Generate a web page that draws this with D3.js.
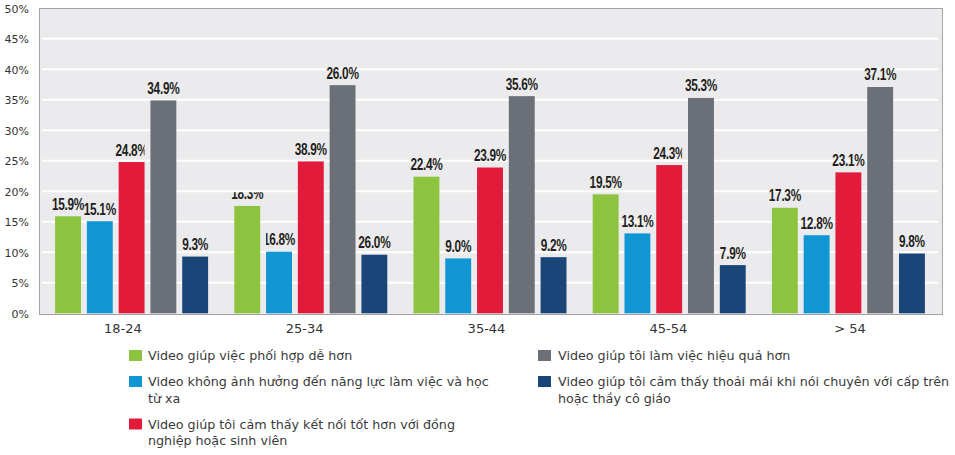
<!DOCTYPE html>
<html><head><meta charset="utf-8">
<script src="https://cdn.jsdelivr.net/npm/d3@7/dist/d3.min.js"></script>
<style>
html,body{margin:0;padding:0;background:#fff;}
svg{display:block;}
</style></head>
<body>
<svg id="chart" width="955" height="455"></svg>
<script>
const categories = ["18-24", "25-34", "35-44", "45-54", "> 54"];
const seriesNames = [
  ["Video giúp việc phối hợp dễ hơn"],
  ["Video không ảnh hưởng đến năng lực làm việc và học", "từ xa"],
  ["Video giúp tôi cảm thấy kết nối tốt hơn với đồng", "nghiệp hoặc sinh viên"],
  ["Video giúp tôi làm việc hiệu quả hơn"],
  ["Video giúp tôi cảm thấy thoải mái khi nói chuyên với cấp trên", "hoặc thầy cô giáo"]
];
const seriesColors = ["#8cc43f", "#1196d4", "#e21b3b", "#6b7078", "#1a4579"];
// bar heights as drawn
const greenValues = [15.9, 17.6, 22.4, 19.5, 17.3];
const blueValues  = [15.1, 10.1, 9.0, 13.1, 12.8];
const redValues   = [24.8, 24.9, 23.9, 24.3, 23.1];
const greyValues  = [34.9, 37.4, 35.6, 35.3, 37.1];
const navyValues  = [9.3, 9.6, 9.2, 7.9, 9.8];
// value labels as printed
const greenLabels = ["15.9%", "18.3%", "22.4%", "19.5%", "17.3%"];
const blueLabels  = ["15.1%", "16.8%", "9.0%", "13.1%", "12.8%"];
const redLabels   = ["24.8%", "38.9%", "23.9%", "24.3%", "23.1%"];
const greyLabels  = ["34.9%", "26.0%", "35.6%", "35.3%", "37.1%"];
const navyLabels  = ["9.3%", "26.0%", "9.2%", "7.9%", "9.8%"];
// label clipping seen in the picture: r = cut at bar right, l = cut at bar left, t = top cut
const labelClips = [
  ["", "t", "", "", ""],
  ["", "l", "", "", ""],
  ["r", "", "", "r", ""],
  ["", "", "", "", ""],
  ["", "", "", "", ""]
];
const yTicks = [0, 5, 10, 15, 20, 25, 30, 35, 40, 45, 50];

const allValues = [greenValues, blueValues, redValues, greyValues, navyValues];
const allLabels = [greenLabels, blueLabels, redLabels, greyLabels, navyLabels];

const svg = d3.select("#chart");
const frame = {left: 39, right: 943, top: 8, bottom: 315};

const y = d3.scaleLinear().domain([0, 50]).range([313.3, 8.3]);
const x0 = d3.scaleBand().domain(categories).range([42, 938]).paddingInner(0).paddingOuter(0);
const groupSpan = 153;
const x1 = d3.scaleBand().domain(d3.range(5)).range([0, groupSpan]).paddingInner(0.185).paddingOuter(0);
const xLabel = d3.scaleBand().domain(categories).range([32, 941]);

// plot background
svg.append("rect").attr("x", frame.left).attr("y", frame.top)
  .attr("width", frame.right - frame.left).attr("height", frame.bottom - frame.top)
  .attr("fill", "#ebebed");

// gridlines
svg.append("g").selectAll("line").data(yTicks.filter(d => d > 0 && d < 50)).join("line")
  .attr("x1", 42).attr("x2", 938)
  .attr("y1", d => y(d)).attr("y2", d => y(d))
  .attr("stroke", "#ffffff").attr("stroke-width", 2);

// frame border
svg.append("rect").attr("x", frame.left + 0.5).attr("y", frame.top + 0.5)
  .attr("width", frame.right - frame.left - 1).attr("height", frame.bottom - frame.top - 1)
  .attr("fill", "none").attr("stroke", "#a3a3a6").attr("stroke-width", 1);

// y axis labels
const yAxis = d3.axisLeft(y).tickValues(yTicks).tickFormat(d => d + "%").tickSize(0).tickPadding(0);
const gy = svg.append("g").attr("transform", "translate(29,0)").call(yAxis);
gy.select(".domain").remove();
gy.selectAll("text").attr("font-family", "DejaVu Sans, Verdana, sans-serif")
  .attr("font-size", "11px").attr("fill", "#333").attr("dy", "0.35em");

// x axis labels
const xAxis = d3.axisBottom(xLabel).tickSize(0).tickPadding(0);
const gx = svg.append("g").attr("transform", "translate(0,321)").call(xAxis);
gx.select(".domain").remove();
gx.selectAll("text").attr("font-family", "DejaVu Sans, Verdana, sans-serif")
  .attr("font-size", "13px").attr("fill", "#333").attr("dy", "0.9em");

const defs = svg.append("defs");
const groupOffset = (x0.bandwidth() - groupSpan) / 2;

categories.forEach((cat, gi) => {
  const gx0 = x0(cat) + groupOffset;
  allValues.forEach((vals, si) => {
    const bx = gx0 + x1(si);
    const bw = x1.bandwidth();
    svg.append("rect")
      .attr("x", bx).attr("y", y(vals[gi]))
      .attr("width", bw).attr("height", y(0) - y(vals[gi]))
      .attr("fill", seriesColors[si]);
  });
});

categories.forEach((cat, gi) => {
  const gx0 = x0(cat) + groupOffset;
  allValues.forEach((vals, si) => {
    const bx = gx0 + x1(si);
    const bw = x1.bandwidth();
    const cx = bx + bw / 2;
    const ty = y(vals[gi]) - 6.5;
    const t = svg.append("text")
      .attr("transform", `translate(${cx},${ty}) scale(0.74,1)`)
      .attr("text-anchor", "middle")
      .attr("font-family", "Liberation Sans, Arial, sans-serif")
      .attr("font-weight", "bold")
      .attr("font-size", "16px")
      .attr("letter-spacing", "-0.4px")
      .attr("fill", "#231f20")
      .text(allLabels[si][gi]);
    const c = labelClips[si][gi];
    if (c) {
      const id = `clip-${si}-${gi}`;
      let r;
      if (c === "r") r = {x: bx - 60, y: ty - 30, w: bw + 60, h: 40};
      else if (c === "l") r = {x: bx, y: ty - 30, w: bw + 60, h: 40};
      else r = {x: bx - 60, y: y(20) + 1, w: bw + 120, h: 40};
      defs.append("clipPath").attr("id", id).append("rect")
        .attr("x", r.x).attr("y", r.y).attr("width", r.w).attr("height", r.h);
      const wrap = svg.append("g").attr("clip-path", `url(#${id})`);
      wrap.node().appendChild(t.node());
    }
  });
});

// legend
const legendCols = [
  {swatchX: 129, textX: 148, items: [0, 1, 2]},
  {swatchX: 538, textX: 558, items: [3, 4]}
];
const lineH = 16.5, itemGap = 9.5, firstBaseline = 360;
legendCols.forEach(col => {
  let base = firstBaseline;
  col.items.forEach(si => {
    const g = svg.append("g");
    g.append("rect").attr("x", col.swatchX).attr("y", base - 10)
      .attr("width", 13).attr("height", 11).attr("fill", seriesColors[si]);
    const txt = g.append("text").attr("font-family", "DejaVu Sans, Verdana, sans-serif")
      .attr("font-size", "12.7px").attr("fill", "#3a3a3a");
    seriesNames[si].forEach((line, li) => {
      txt.append("tspan").attr("x", col.textX).attr("y", base + li * lineH).text(line);
    });
    base += seriesNames[si].length * lineH + itemGap;
  });
});
</script>
</body></html>
